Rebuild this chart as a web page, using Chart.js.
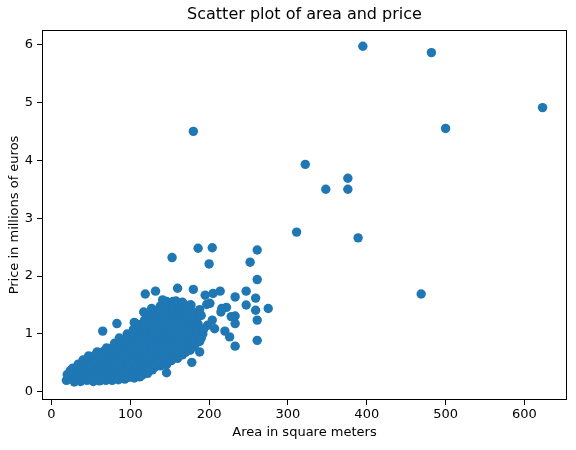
<!DOCTYPE html>
<html>
<head>
<meta charset="utf-8">
<script src="https://cdn.jsdelivr.net/npm/chart.js@4.4.1/dist/chart.umd.min.js"></script>
<style>
  body { margin: 0; background: #fff; }
  #wrap { width: 576px; height: 450px; }
</style>
</head>
<body>
<div id="wrap"><canvas id="myChart" width="576" height="450"></canvas></div>
<script>
// [area in m2, price in millions of euros]
// the packed cluster of small flats
var denseListings = [
  [19,0.2],[29,0.17],[37,0.18],[45,0.2],[53,0.18],[61,0.19],[69,0.2],[77,0.2],[85,0.21],[93,0.22],
  [25,0.25],[33,0.23],[41,0.24],[50,0.25],[57,0.23],[66,0.24],[73,0.25],[82,0.24],[90,0.26],[98,0.25],[105,0.24],[112,0.26],
  [20,0.3],[28,0.31],[36,0.29],[44,0.3],[52,0.32],[60,0.3],[68,0.31],[77,0.29],[84,0.3],[92,0.32],[100,0.3],[108,0.31],[115,0.29],[122,0.32],
  [24,0.37],[32,0.36],[40,0.35],[48,0.37],[56,0.36],[64,0.38],[72,0.35],[80,0.37],[88,0.36],[96,0.38],[104,0.36],[112,0.37],[120,0.35],[128,0.38],
  [27,0.41],[35,0.43],[44,0.42],[52,0.44],[60,0.41],[68,0.43],[76,0.42],[84,0.44],[92,0.41],[100,0.43],[108,0.42],[116,0.44],[124,0.41],[131,0.43],[138,0.45],
  [34,0.48],[42,0.49],[50,0.47],[58,0.5],[66,0.48],[74,0.49],[82,0.47],[90,0.5],[98,0.48],[106,0.49],[114,0.47],[122,0.5],[130,0.48],[138,0.49],[146,0.47],
  [40,0.55],[48,0.56],[56,0.54],[64,0.57],[72,0.55],[80,0.56],[88,0.54],[96,0.57],[104,0.55],[112,0.56],[120,0.54],[128,0.57],[136,0.55],[144,0.56],[152,0.54],[160,0.58],
  [47,0.62],[55,0.63],[62,0.61],[70,0.64],[78,0.62],[86,0.63],[94,0.61],[102,0.64],[110,0.62],[118,0.63],[126,0.61],[134,0.64],[142,0.62],[150,0.63],[158,0.61],[166,0.64],
  [58,0.69],[66,0.7],[74,0.68],[82,0.71],[90,0.69],[98,0.7],[106,0.68],[114,0.71],[122,0.69],[130,0.7],[138,0.68],[146,0.71],[154,0.69],[162,0.7],[170,0.68],[176,0.72],
  [70,0.76],[78,0.77],[86,0.75],[94,0.78],[102,0.76],[110,0.77],[118,0.75],[126,0.78],[134,0.76],[142,0.77],[150,0.75],[158,0.78],[166,0.76],[174,0.77],[181,0.79],
  [80,0.84],[88,0.85],[96,0.83],[104,0.86],[112,0.84],[120,0.85],[128,0.83],[136,0.86],[144,0.84],[152,0.85],[160,0.83],[168,0.86],[176,0.84],[184,0.85],
  [86,0.93],[94,0.91],[102,0.92],[110,0.94],[118,0.91],[126,0.93],[134,0.92],[142,0.94],[150,0.91],[158,0.93],[166,0.92],[174,0.94],[182,0.91],[190,0.93],
  [96,1.0],[104,1.01],[112,0.99],[120,1.02],[128,1.0],[136,1.01],[144,0.99],[152,1.02],[160,1.0],[168,1.01],[176,0.99],[184,1.02],[192,1.0],
  [104,1.08],[112,1.09],[120,1.07],[128,1.1],[136,1.08],[144,1.09],[152,1.07],[160,1.1],[168,1.08],[176,1.09],[184,1.07],
  [112,1.16],[120,1.17],[128,1.15],[136,1.18],[144,1.16],[152,1.17],[160,1.15],[168,1.18],[176,1.16],[186,1.17],[198,1.15],
  [118,1.24],[126,1.25],[134,1.23],[142,1.26],[150,1.24],[158,1.25],[166,1.23],[174,1.26],[182,1.24],
  [124,1.32],[132,1.33],[140,1.31],[148,1.34],[156,1.32],[164,1.33],[172,1.31],[180,1.34],[190,1.32],
  [130,1.4],[138,1.41],[146,1.39],[154,1.42],[162,1.4],[170,1.41],[178,1.39],[188,1.42],
  [138,1.48],[146,1.49],[154,1.47],[162,1.5],[170,1.48],
  [146,1.56],[158,1.57],[166,1.55]
];

// looser points around the cluster
var spreadListings = [
  [65,1.05],[83,1.18],[107,1.18],[105,1.2],[117,1.38],[127,1.44],[119,1.69],[132,1.74],[141,1.59],[141,1.44],
  [154,1.56],[167,1.53],[177,1.5],[197,1.51],[201,1.53],[195,1.67],[205,1.7],[214,1.74],[216,1.44],[215,1.38],
  [222,1.46],[233,1.64],[247,1.74],[247,1.5],[259,1.62],[259,1.41],[275,1.44],[261,1.24],[233,1.31],[233,1.18],
  [228,1.3],[204,1.24],[184,1.24],[193,1.08],[207,1.09],[220,1.05],[226,0.95],[233,0.79],[261,0.89],[188,0.87],
  [188,0.69],[178,0.51],[146,0.33],[252,2.24],[261,2.45],[261,1.94],[186,2.48],[204,2.49],[200,2.21],[153,2.32],
  [180,1.77],[160,1.79],[182,1.19],[176,1.5],[180,1.25],[188,0.9]
];

// the big and expensive ones
var outlierListings = [
  [395,5.97],[482,5.86],[623,4.91],[500,4.55],[180,4.5],[322,3.93],
  [376,3.69],[348,3.5],[376,3.5],[311,2.76],[389,2.66],[469,1.69]
];

var xTicks = [0, 100, 200, 300, 400, 500, 600];
var yTicks = [0, 1, 2, 3, 4, 5, 6];

var points = denseListings.concat(spreadListings, outlierListings).map(function(p) {
  return { x: p[0], y: p[1] };
});

Chart.defaults.font.family = 'DejaVu Sans';
Chart.defaults.color = '#000';

// black box round the plot area like matplotlib spines
var frame = {
  id: 'frame',
  afterDraw: function(chart) {
    var a = chart.chartArea, c = chart.ctx;
    c.save();
    c.strokeStyle = '#000';
    c.lineWidth = 1;
    c.strokeRect(Math.round(a.left) + 0.5, Math.round(a.top) + 0.5,
      Math.round(a.right - a.left) - 1, Math.round(a.bottom - a.top) - 1);
    c.restore();
  }
};

var ctx = document.getElementById('myChart');
var chart = new Chart(ctx, {
  type: 'scatter',
  data: {
    datasets: [{
      data: points,
      backgroundColor: '#1f77b4',
      borderWidth: 0,
      pointRadius: 4.7,
      pointHoverRadius: 4.7
    }]
  },
  options: {
    responsive: false,
    animation: false,
    events: [],
    layout: { padding: { right: 9 } },
    plugins: {
      legend: { display: false },
      tooltip: { enabled: false },
      title: {
        display: true,
        text: 'Scatter plot of area and price',
        fullSize: false,
        font: { size: 16, weight: 'normal' },
        padding: { top: 5.4, bottom: 5.4 }
      }
    },
    scales: {
      x: {
        type: 'linear',
        min: -12,
        max: 654,
        afterBuildTicks: function(s) { s.ticks = xTicks.map(function(v) { return { value: v }; }); },
        afterFit: function(s) { s.height = 50; },
        ticks: { font: { size: 13 }, padding: 2, maxRotation: 0 },
        grid: { drawOnChartArea: false, color: '#000', tickLength: 5 },
        border: { display: false },
        title: {
          display: true,
          text: 'Area in square meters',
          font: { size: 13 },
          padding: { top: 0, bottom: 9.5 }
        }
      },
      y: {
        type: 'linear',
        min: -0.14,
        max: 6.25,
        afterBuildTicks: function(s) { s.ticks = yTicks.map(function(v) { return { value: v }; }); },
        afterFit: function(s) { s.width = 42; },
        ticks: { font: { size: 13 }, padding: 4 },
        grid: { drawOnChartArea: false, color: '#000', tickLength: 5 },
        border: { display: false },
        title: {
          display: true,
          text: 'Price in millions of euros',
          font: { size: 13 },
          padding: { top: 7, bottom: 0 }
        }
      }
    }
  },
  plugins: [frame]
});
</script>
</body>
</html>
